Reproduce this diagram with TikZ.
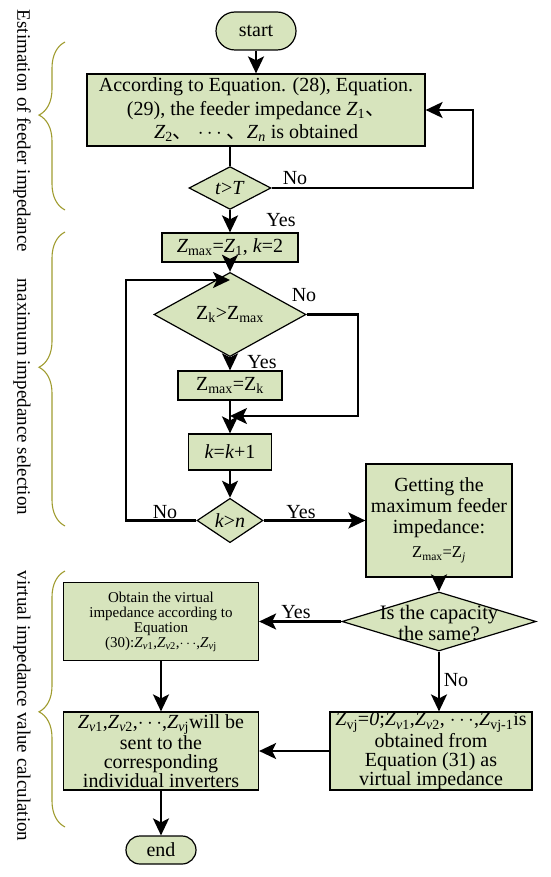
\documentclass[tikz,border=0pt]{standalone}
\usepackage{fontspec}
\setmainfont{Liberation Serif}
\newfontfamily\cjk{Noto Sans CJK SC}
\usetikzlibrary{arrows.meta, positioning, shapes.geometric, decorations.pathreplacing}
\definecolor{cfill}{HTML}{D7E4BD}
\definecolor{cbrace}{HTML}{A09C30}
\newcommand{\Zi}[1]{\textit{Z}\textsubscript{#1}}
\newcommand{\Zu}[1]{Z\textsubscript{#1}}
\newcommand{\dtext}[1]{\makebox[0pt]{\smash{\raisebox{-9pt}{\begin{tabular}{@{}c@{}}#1\end{tabular}}}}}
\tikzset{
  every picture/.style={x=1pt, y=-1pt, font=\fontsize{20}{21}\selectfont},
  box/.style={draw, fill=cfill, line width=1.2pt, align=center, inner sep=0pt},
  term/.style={box, rounded corners=#1},
  dec/.style={box, diamond},
  arrow/.style={-{Stealth[length=17pt, width=16pt, inset=4pt]}, line width=2.2pt},
  link/.style={line width=2.2pt},
  lbl/.style={inner sep=0pt},
  side/.style={rotate=-90, inner sep=0pt, font=\fontsize{19}{20}\selectfont},
  curly/.style={draw=cbrace, line width=1.1pt, decorate, decoration={brace, amplitude=26pt, aspect=#1}},
}

\begin{document}
\begin{tikzpicture}
  \useasboundingbox (0,0) rectangle (550,877);
  % estimation of feeder impedance
  \node[term=19pt, minimum width=80pt, minimum height=38pt] (start) at (256,31) {start};
  \node[box, minimum width=338pt, minimum height=72pt, font=\fontsize{20}{23.5}\selectfont] (est) at (256,110)
    {According to Equation. (28), Equation.\\ (29), the feeder impedance \Zi{1}{\cjk 、}\\ \Zi{2}{\cjk 、} $\cdots$ {\cjk 、}\Zi{\textit{n}} is obtained};
  \node[dec, minimum width=82pt, minimum height=42pt] (tT) at (230,188) {\textit{t}>\textit{T}};
  % maximum impedance selection
  \node[box, minimum width=136pt, minimum height=29pt] (init) at (230,247.5) {\Zi{max}=\Zi{1}, \textit{k}=2};
  \node[dec, minimum width=152pt, minimum height=43pt] (cmp) at (230,314.5) {\Zu{k}>\Zu{max}};
  \node[box, minimum width=104pt, minimum height=29pt] (upd) at (230,385.5) {\Zu{max}=\Zu{k}};
  \node[box, minimum width=83pt, minimum height=36pt] (inc) at (230,452) {\textit{k}=\textit{k}+1};
  \node[dec, minimum width=66pt, minimum height=43pt] (kn) at (230,520.5) {\textit{k}>\textit{n}};
  \node[box, minimum width=146pt, minimum height=113pt, font=\fontsize{20}{21}\selectfont] (maxz) at (439,520.5)
    {Getting the\\ maximum feeder\\ impedance:\\[3pt] {\fontsize{16.5}{18}\selectfont\Zu{max}=Z\textsubscript{\textit{j}}}};
  % virtual impedance value calculation
  \node[dec, minimum width=194pt, minimum height=59pt] (same) at (439,621.5)
    {\dtext{\fontsize{20.5}{19}\selectfont Is the capacity\\ \fontsize{20.5}{19}\selectfont the same?}};
  \node[box, minimum width=195pt, minimum height=78pt, font=\fontsize{15}{15}\selectfont] (eq30) at (161,621.5)
    {Obtain the virtual\\ impedance according to\\ Equation\\ (30):\Zi{\textit{v}1},\Zi{\textit{v}2},$\cdots$,\Zi{\textit{v}j}};
  \node[box, minimum width=202pt, minimum height=78pt, font=\fontsize{20}{19}\selectfont] (eq31) at (431,751)
    {\Zi{vj}=\textit{0};\Zi{\textit{v}1},\Zi{\textit{v}2}, $\cdots$,\Zi{vj-1}is\\ obtained from\\ Equation (31) as\\ virtual impedance};
  \node[box, minimum width=195pt, minimum height=78pt, font=\fontsize{20}{19}\selectfont] (send) at (161,751)
    {\Zi{\textit{v}1},\Zi{\textit{v}2},$\cdots$,\Zi{\textit{v}j}will be\\ sent to the\\ corresponding\\ individual inverters};
  \node[term=14pt, minimum width=70pt, minimum height=28pt] (end) at (161,850) {end};

  % connectors
  \coordinate (tTr) at (473,188);
  \coordinate (lp) at (126,280);
  \coordinate (lpj) at (230,280);
  \coordinate (rp) at (358,416);
  \coordinate (rpj) at (230,416);
  \draw[arrow] (start) -- (est);
  \draw[link] (est.south -| tT.north) -- (tT.north);
  \draw[arrow] (tT.east) -- (tTr) |- (est.east);
  \draw[arrow] (tT) -- (init);
  \draw[arrow] (init) -- (cmp);
  \draw[arrow] (kn.west) -| (lp) -- (lpj);
  \draw[arrow] (cmp) -- (upd);
  \draw[arrow] (cmp.east) -| (rp) -- (rpj);
  \draw[arrow] (upd) -- (inc);
  \draw[arrow] (inc) -- (kn);
  \draw[arrow] (kn) -- (maxz);
  \draw[arrow] (maxz) -- (same);
  \draw[arrow] (same) -- (eq30);
  \draw[arrow] (same.south) -- (same.south |- eq31.north);
  \draw[arrow] (eq31) -- (send);
  \draw[arrow] (eq30) -- (send);
  \draw[arrow] (send) -- (end);

  % branch labels
  \node[lbl] (no1) at (295,178) {No};
  \node[lbl] (yes1) at (281,220) {Yes};
  \node[lbl] (no2) at (304,295) {No};
  \node[lbl] (yes2) at (262,362) {Yes};
  \node[lbl] (no3) at (165,512) {No};
  \node[lbl] (yes3) at (301,512) {Yes};
  \node[lbl] (yes4) at (296,612) {Yes};
  \node[lbl] (no4) at (456,680) {No};

  % stage braces
  \coordinate (b1s) at (65,210);
  \coordinate (b1e) at (65,42);
  \coordinate (b2s) at (65,526);
  \coordinate (b2e) at (65,232);
  \coordinate (b3s) at (65,827);
  \coordinate (b3e) at (65,571);
  \draw[curly=0.565] (b1s) -- (b1e);
  \draw[curly=0.54] (b2s) -- (b2e);
  \draw[curly=0.45] (b3s) -- (b3e);
  \node[side] (stage1) at (22,131) {Estimation of feeder impedance};
  \node[side] (stage2) at (22,397) {maximum impedance selection};
  \node[side] (stage3) at (22,706) {virtual impedance value calculation};
\end{tikzpicture}
\end{document}
